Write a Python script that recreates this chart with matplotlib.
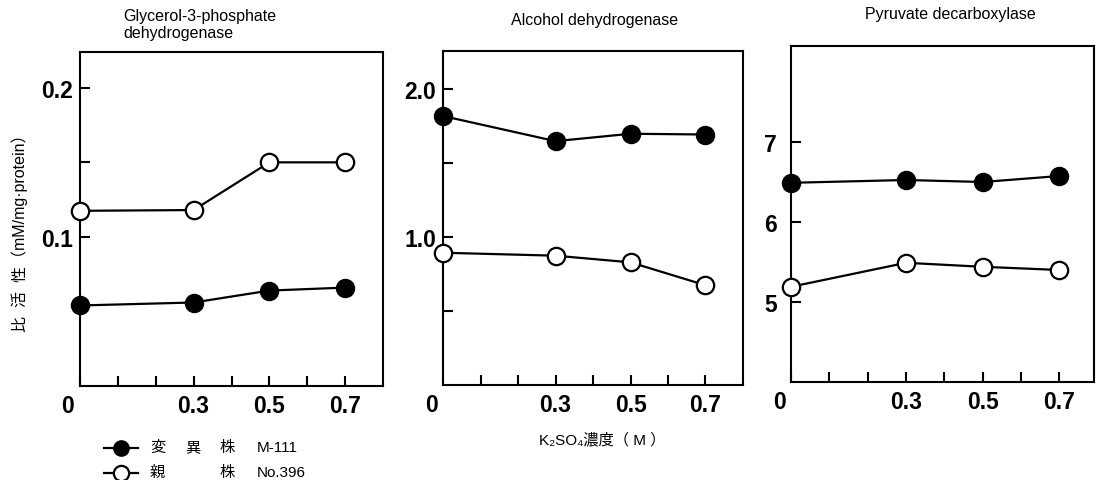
import numpy as np
from matplotlib import pyplot as plt
from matplotlib.lines import Line2D
from matplotlib.transforms import ScaledTranslation

plt.rcParams['font.family'] = ['Liberation Sans', 'Noto Sans CJK JP', 'DejaVu Sans']

# K2SO4 concentration (M)
conc = [0.0, 0.3, 0.5, 0.7]

# specific activity, mutant M-111 (filled) and parent No.396 (open)
g3pdh_mutant = [0.054, 0.056, 0.064, 0.066]
g3pdh_parent = [0.1175, 0.118, 0.150, 0.150]
adh_mutant = [1.82, 1.65, 1.70, 1.695]
adh_parent = [0.895, 0.875, 0.83, 0.675]
pdc_mutant = [6.49, 6.525, 6.50, 6.575]
pdc_parent = [5.19, 5.49, 5.44, 5.40]

x_ticks = [0.0, 0.3, 0.5, 0.7]
x_ticklabels = ['0', '0.3', '0.5', '0.7']
x_minor = [0.1, 0.2, 0.4, 0.6]

titles = ['Glycerol-3-phosphate\ndehydrogenase', 'Alcohol dehydrogenase', 'Pyruvate decarboxylase']

# legend words, each row split into columns
legend_rows = [['変', '異', '株', 'M-111'], ['親', '', '株', 'No.396']]

panels = [
    dict(mut=g3pdh_mutant, par=g3pdh_parent, ylim=(0, 0.224), xlim=(0, 0.8),
         yt=[0.1, 0.2], ytl=['0.1', '0.2'], ym=[0.15], pad=5,
         rect=[80 / 1104, 94 / 481, 303 / 1104, 334 / 481]),
    dict(mut=adh_mutant, par=adh_parent, ylim=(0, 2.26), xlim=(0, 0.8),
         yt=[1.0, 2.0], ytl=['1.0', '2.0'], ym=[0.5, 1.5], pad=5,
         rect=[443 / 1104, 95 / 481, 300 / 1104, 334 / 481]),
    dict(mut=pdc_mutant, par=pdc_parent, ylim=(4.0, 8.2), xlim=(0, 0.79),
         yt=[5, 6, 7], ytl=['5', '6', '7'], ym=[], pad=10,
         rect=[791 / 1104, 98 / 481, 303 / 1104, 336 / 481]),
]

fig = plt.figure(figsize=(11.04, 4.81), dpi=100)

tick_font = dict(family='Liberation Sans', weight='bold', size=16.5)

for p in panels:
    ax = fig.add_axes(p['rect'])
    ax.plot(conc, p['mut'], '-o', color='black', lw=1.6, ms=12.5,
            mfc='black', mec='black', mew=1.5, clip_on=False, zorder=3)
    ax.plot(conc, p['par'], '-o', color='black', lw=1.6, ms=12.5,
            mfc='white', mec='black', mew=1.6, clip_on=False, zorder=3)
    ax.set_xlim(*p['xlim'])
    ax.set_ylim(*p['ylim'])
    ax.set_xticks(x_ticks)
    ax.set_xticklabels(x_ticklabels, fontdict=tick_font)
    ax.set_xticks(x_minor, minor=True)
    ax.set_yticks(p['yt'])
    ax.set_yticklabels(p['ytl'], fontdict=tick_font)
    ax.set_yticks(p['ym'], minor=True)
    for s in ax.spines.values():
        s.set_linewidth(1.5)
    ax.tick_params(which='both', direction='in', length=7, width=1.5)
    ax.tick_params(axis='x', which='major', pad=6)
    ax.tick_params(axis='y', which='major', pad=p['pad'])
    # the 0 label sits left of the corner
    lab0 = ax.get_xticklabels()[0]
    lab0.set_transform(lab0.get_transform() + ScaledTranslation(-0.12, 0, fig.dpi_scale_trans))

fig.text(123 / 1104, 1 - 9 / 481, titles[0], ha='left', va='top', fontsize=11.5, linespacing=1.2)
fig.text(595 / 1104, 1 - 20 / 481, titles[1], ha='center', va='center', fontsize=11.5)
fig.text(950 / 1104, 1 - 15 / 481, titles[2], ha='center', va='center', fontsize=11.5)

fig.text(20 / 1104, 1 - 229 / 481, '比  活  性（mM/mg·protein）', rotation=90,
         ha='center', va='center', fontsize=11.5)
fig.text(602 / 1104, 1 - 440 / 481, 'K₂SO₄濃度（ M ）', ha='center', va='center', fontsize=11)

# legend keys
h_mut = Line2D([], [], color='black', lw=1.6, marker='o', ms=11, mfc='black', mec='black')
h_par = Line2D([], [], color='black', lw=1.6, marker='o', ms=11, mfc='white', mec='black', mew=1.6)
fig.legend([h_mut, h_par], [' ', ' '],
           loc='upper left', bbox_to_anchor=(104 / 1104, 1 - 443 / 481),
           frameon=False, fontsize=11, handlelength=2.2, handletextpad=0,
           borderpad=0, borderaxespad=0, labelspacing=0.72)

# legend words
col_x = [150, 185, 220, 257]
row_y = [448, 473]
for row, y in zip(legend_rows, row_y):
    for word, x in zip(row, col_x):
        if word:
            fig.text(x / 1104, 1 - y / 481, word, ha='left', va='center', fontsize=11)

fig.savefig('out.png', dpi=100)
